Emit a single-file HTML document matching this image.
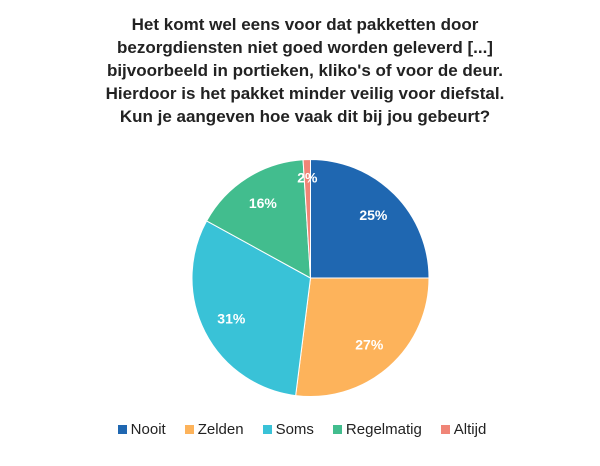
<!DOCTYPE html>
<html><head><meta charset="utf-8"><style>
body{margin:0;background:#fff;width:600px;height:466px;overflow:hidden;font-family:"Liberation Sans",sans-serif}
#title{position:absolute;left:0;top:13px;width:610px;text-align:center;font-weight:bold;font-size:17px;line-height:23px;color:#222}
#legend{position:absolute;left:0;top:421px;width:604px;display:flex;justify-content:center;gap:19px;font-size:15px;color:#222}
.li{display:flex;align-items:center}
.sw{width:9px;height:9px;margin-right:4px}
</style></head><body>
<div id="title">Het komt wel eens voor dat pakketten door<br>bezorgdiensten niet goed worden geleverd [...]<br>bijvoorbeeld in portieken, kliko's of voor de deur.<br>Hierdoor is het pakket minder veilig voor diefstal.<br>Kun je aangeven hoe vaak dit bij jou gebeurt?</div>
<svg id="pie" width="600" height="466" style="position:absolute;left:0;top:0"></svg>
<div id="legend"></div>
<script>
const categories=["Nooit","Zelden","Soms","Regelmatig","Altijd"];
const values=[25,27,31,16,2];
const colors=["#1f67b1","#fdb35b","#39c2d7","#42bd8e","#f08577"];
const svg=document.getElementById('pie');
const NS="http://www.w3.org/2000/svg";
const cx=310.5,cy=278,r=118.5;
const total=Math.max(100,values.slice(0,-1).reduce((a,b)=>a+b,0)+1);
let a0=0;
function pt(a,rr){return [cx+rr*Math.sin(a),cy-rr*Math.cos(a)];}
values.forEach((v,i)=>{
  let a1=a0+v/total*2*Math.PI;
  if(i===values.length-1||a1>2*Math.PI) a1=2*Math.PI;
  const p0=pt(a0,r),p1=pt(a1-1e-6,r);
  const large=(a1-a0)>Math.PI?1:0;
  const path=document.createElementNS(NS,'path');
  path.setAttribute('d',`M${cx},${cy}L${p0[0]},${p0[1]}A${r},${r} 0 ${large} 1 ${p1[0]},${p1[1]}Z`);
  path.setAttribute('fill',colors[i]);
  path.setAttribute('stroke','#fff');
  path.setAttribute('stroke-width','1');
  
  
  svg.appendChild(path);
  const am=(a0+a1)/2, lp=pt(am, v<5?r*0.85:r*0.75);
  const t=document.createElementNS(NS,'text');
  t.setAttribute('x',lp[0]);t.setAttribute('y',lp[1]+5);
  t.setAttribute('text-anchor','middle');
  t.setAttribute('fill','#fff');t.setAttribute('font-weight','bold');t.setAttribute('font-size','14');
  t.setAttribute('font-family','Liberation Sans, sans-serif');
  t.textContent=v+'%';
  
  
  svg.appendChild(t);
  a0=a1;
});
const lg=document.getElementById('legend');
categories.forEach((c,i)=>{
  const d=document.createElement('div');d.className='li';
  
  
  d.innerHTML=`<span class="sw" style="background:${colors[i]}"></span>${c}`;
  lg.appendChild(d);
});
</script>
</body></html>
